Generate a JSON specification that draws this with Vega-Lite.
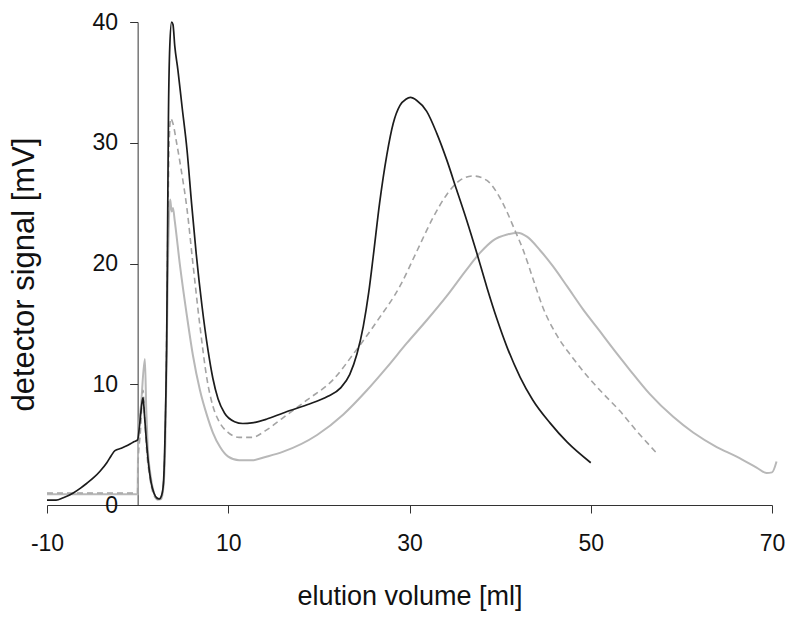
{
  "$schema": "https://vega.github.io/schema/vega-lite/v6.json",
  "width": 725,
  "height": 483,
  "autosize": "none",
  "padding": {"left": 47, "top": 22, "right": 28, "bottom": 116},
  "background": "white",
  "config": {"view": {"stroke": null}, "font": "Liberation Sans"},
  "datasets": {
    "black": [
      {"volume": -10, "signal": 0.4}, {"volume": -9, "signal": 0.4}, {"volume": -8.2, "signal": 0.6},
      {"volume": -7.1, "signal": 1.0}, {"volume": -6.3, "signal": 1.4}, {"volume": -5.6, "signal": 1.8},
      {"volume": -4.8, "signal": 2.3}, {"volume": -4.15, "signal": 2.8}, {"volume": -3.4, "signal": 3.5},
      {"volume": -2.9, "signal": 4.1}, {"volume": -2.5, "signal": 4.5}, {"volume": -1.8, "signal": 4.7},
      {"volume": -1.2, "signal": 4.9}, {"volume": -0.5, "signal": 5.2}, {"volume": 0.0, "signal": 5.4},
      {"volume": 0.2, "signal": 6.5}, {"volume": 0.45, "signal": 8.3}, {"volume": 0.6, "signal": 8.9},
      {"volume": 0.75, "signal": 7.5}, {"volume": 0.95, "signal": 5.5}, {"volume": 1.2, "signal": 3.4},
      {"volume": 1.5, "signal": 1.8}, {"volume": 1.8, "signal": 1.0}, {"volume": 2.1, "signal": 0.6},
      {"volume": 2.4, "signal": 0.5}, {"volume": 2.65, "signal": 0.8}, {"volume": 2.85, "signal": 1.8},
      {"volume": 3.0, "signal": 5.0}, {"volume": 3.1, "signal": 8.5}, {"volume": 3.2, "signal": 13.0},
      {"volume": 3.3, "signal": 22.0}, {"volume": 3.4, "signal": 32.0}, {"volume": 3.55, "signal": 38.0},
      {"volume": 3.75, "signal": 40.0}, {"volume": 3.9, "signal": 39.8}, {"volume": 4.1, "signal": 38.0},
      {"volume": 4.45, "signal": 36.0}, {"volume": 4.9, "signal": 33.0}, {"volume": 5.45, "signal": 29.4},
      {"volume": 5.95, "signal": 25.0}, {"volume": 6.44, "signal": 21.0}, {"volume": 7.1, "signal": 16.5},
      {"volume": 7.77, "signal": 12.8}, {"volume": 8.3, "signal": 10.5}, {"volume": 8.87, "signal": 8.8},
      {"volume": 9.6, "signal": 7.6}, {"volume": 10.7, "signal": 6.9}, {"volume": 11.6, "signal": 6.75},
      {"volume": 12.6, "signal": 6.8}, {"volume": 14.2, "signal": 7.1}, {"volume": 16.0, "signal": 7.6},
      {"volume": 18.7, "signal": 8.3}, {"volume": 21.0, "signal": 9.0}, {"volume": 22.4, "signal": 9.7},
      {"volume": 23.4, "signal": 10.8}, {"volume": 24.2, "signal": 12.5}, {"volume": 24.9, "signal": 14.8},
      {"volume": 25.5, "signal": 17.6}, {"volume": 26.0, "signal": 20.6}, {"volume": 26.7, "signal": 25.0},
      {"volume": 27.5, "signal": 29.0}, {"volume": 28.2, "signal": 31.6}, {"volume": 28.95, "signal": 33.1},
      {"volume": 29.6, "signal": 33.6}, {"volume": 30.1, "signal": 33.75}, {"volume": 30.8, "signal": 33.5},
      {"volume": 31.9, "signal": 32.6}, {"volume": 33.0, "signal": 30.8}, {"volume": 34.1, "signal": 28.6},
      {"volume": 35.2, "signal": 26.1}, {"volume": 36.3, "signal": 23.6}, {"volume": 37.45, "signal": 20.8},
      {"volume": 38.55, "signal": 18.0}, {"volume": 39.65, "signal": 15.4}, {"volume": 40.75, "signal": 13.1},
      {"volume": 42.2, "signal": 10.6}, {"volume": 43.6, "signal": 8.7}, {"volume": 45.5, "signal": 6.8},
      {"volume": 47.4, "signal": 5.2}, {"volume": 50.0, "signal": 3.5}
    ],
    "dashed": [
      {"volume": -10, "signal": 1.0}, {"volume": -5, "signal": 1.0}, {"volume": 0.0, "signal": 1.0},
      {"volume": 0.05, "signal": 3.5}, {"volume": 0.3, "signal": 6.0}, {"volume": 0.6, "signal": 9.5},
      {"volume": 0.8, "signal": 7.0}, {"volume": 1.0, "signal": 4.5}, {"volume": 1.3, "signal": 2.5},
      {"volume": 1.7, "signal": 1.0}, {"volume": 2.1, "signal": 0.5}, {"volume": 2.4, "signal": 0.45},
      {"volume": 2.7, "signal": 0.9}, {"volume": 2.9, "signal": 2.5}, {"volume": 3.05, "signal": 6.0},
      {"volume": 3.2, "signal": 14.0}, {"volume": 3.35, "signal": 24.0}, {"volume": 3.5, "signal": 30.5},
      {"volume": 3.65, "signal": 32.0}, {"volume": 3.9, "signal": 31.6}, {"volume": 4.3, "signal": 30.0},
      {"volume": 4.8, "signal": 27.8}, {"volume": 5.45, "signal": 24.5}, {"volume": 6.1, "signal": 20.0},
      {"volume": 6.88, "signal": 14.8}, {"volume": 7.66, "signal": 10.4}, {"volume": 8.3, "signal": 8.2},
      {"volume": 9.0, "signal": 6.9}, {"volume": 10.0, "signal": 6.0}, {"volume": 11.2, "signal": 5.6},
      {"volume": 12.6, "signal": 5.6}, {"volume": 14.2, "signal": 6.2}, {"volume": 16.0, "signal": 7.2},
      {"volume": 18.7, "signal": 8.7}, {"volume": 21.6, "signal": 10.4}, {"volume": 23.8, "signal": 12.5},
      {"volume": 26.4, "signal": 15.2}, {"volume": 29.0, "signal": 18.2}, {"volume": 30.8, "signal": 21.0},
      {"volume": 32.6, "signal": 23.8}, {"volume": 34.1, "signal": 25.7}, {"volume": 35.6, "signal": 26.9},
      {"volume": 37.0, "signal": 27.25}, {"volume": 38.5, "signal": 26.9}, {"volume": 39.7, "signal": 25.8},
      {"volume": 40.8, "signal": 24.2}, {"volume": 41.6, "signal": 22.8}, {"volume": 42.5, "signal": 21.2},
      {"volume": 43.6, "signal": 18.8}, {"volume": 44.7, "signal": 16.4}, {"volume": 46.3, "signal": 14.0},
      {"volume": 48.0, "signal": 12.2}, {"volume": 49.7, "signal": 10.6}, {"volume": 51.4, "signal": 9.2},
      {"volume": 53.2, "signal": 7.8}, {"volume": 55.1, "signal": 6.1}, {"volume": 57.4, "signal": 4.2}
    ],
    "light": [
      {"volume": -10, "signal": 0.9}, {"volume": -5, "signal": 0.9}, {"volume": 0.0, "signal": 0.9},
      {"volume": 0.05, "signal": 5.0}, {"volume": 0.4, "signal": 8.5}, {"volume": 0.8, "signal": 12.1},
      {"volume": 0.95, "signal": 8.0}, {"volume": 1.1, "signal": 5.0}, {"volume": 1.4, "signal": 2.6},
      {"volume": 1.8, "signal": 1.0}, {"volume": 2.2, "signal": 0.45}, {"volume": 2.6, "signal": 0.5},
      {"volume": 2.85, "signal": 1.5}, {"volume": 3.05, "signal": 5.0}, {"volume": 3.2, "signal": 12.0},
      {"volume": 3.35, "signal": 20.0}, {"volume": 3.5, "signal": 24.5}, {"volume": 3.6, "signal": 25.3},
      {"volume": 3.75, "signal": 24.3}, {"volume": 3.9, "signal": 24.6}, {"volume": 4.1, "signal": 23.5},
      {"volume": 4.68, "signal": 19.8}, {"volume": 5.45, "signal": 15.6}, {"volume": 6.1, "signal": 12.4},
      {"volume": 6.88, "signal": 9.5}, {"volume": 7.66, "signal": 7.4}, {"volume": 8.3, "signal": 6.0},
      {"volume": 9.1, "signal": 4.8}, {"volume": 10.0, "signal": 4.0}, {"volume": 11.2, "signal": 3.7},
      {"volume": 12.6, "signal": 3.7}, {"volume": 14.2, "signal": 4.0}, {"volume": 16.0, "signal": 4.4},
      {"volume": 19.8, "signal": 5.8}, {"volume": 22.7, "signal": 7.5}, {"volume": 25.3, "signal": 9.5},
      {"volume": 27.5, "signal": 11.4}, {"volume": 29.7, "signal": 13.4}, {"volume": 31.9, "signal": 15.3},
      {"volume": 34.1, "signal": 17.3}, {"volume": 36.3, "signal": 19.5}, {"volume": 37.8, "signal": 20.9},
      {"volume": 39.2, "signal": 21.9}, {"volume": 40.8, "signal": 22.4}, {"volume": 41.9, "signal": 22.55},
      {"volume": 43.0, "signal": 22.2}, {"volume": 44.4, "signal": 21.1}, {"volume": 45.8, "signal": 19.8},
      {"volume": 47.4, "signal": 18.1}, {"volume": 49.15, "signal": 16.2}, {"volume": 51.0, "signal": 14.4},
      {"volume": 52.1, "signal": 13.3}, {"volume": 54.3, "signal": 11.2}, {"volume": 56.5, "signal": 9.2},
      {"volume": 59.1, "signal": 7.3}, {"volume": 61.3, "signal": 6.0}, {"volume": 63.9, "signal": 4.8},
      {"volume": 66.1, "signal": 4.0}, {"volume": 68.3, "signal": 3.1}, {"volume": 69.4, "signal": 2.65},
      {"volume": 70.0, "signal": 2.7}, {"volume": 70.5, "signal": 3.6}
    ]
  },
  "encoding": {
    "x": {
      "field": "volume", "type": "quantitative",
      "scale": {"domain": [-10, 70], "nice": false, "zero": false},
      "axis": {
        "title": "elution volume [ml]", "values": [-10, 10, 30, 50, 70], "grid": false,
        "labelExpr": "'' + datum.value",
        "domainColor": "#333333", "tickColor": "#333333", "tickSize": 8, "domainWidth": 1,
        "labelFontSize": 23, "labelColor": "#111111", "labelPadding": 19, "labelFlush": false,
        "titleFontSize": 27, "titleFontWeight": "normal", "titleColor": "#111111",
        "titleBaseline": "alphabetic", "titleY": 99
      }
    },
    "y": {
      "field": "signal", "type": "quantitative",
      "scale": {"domain": [0, 40], "nice": false},
      "axis": {
        "title": "detector signal [mV]", "values": [0, 10, 20, 30, 40], "grid": false,
        "offset": -90.625,
        "domainColor": "#333333", "tickColor": "#333333", "tickSize": 8, "domainWidth": 1,
        "labelFontSize": 23, "labelColor": "#111111", "labelPadding": 12, "labelFlush": false,
        "titleFontSize": 31, "titleFontWeight": "normal", "titleColor": "#111111",
        "titleAngle": -90, "titleBaseline": "alphabetic", "titleAlign": "center",
        "titleX": -104.6, "titleY": 252
      }
    }
  },
  "layer": [
    {"data": {"name": "light"}, "mark": {"type": "line", "color": "#b8b8b8", "strokeWidth": 2, "interpolate": "monotone"}},
    {"data": {"name": "dashed"}, "mark": {"type": "line", "color": "#a4a4a4", "strokeWidth": 1.6, "strokeDash": [6, 4], "interpolate": "monotone"}},
    {"data": {"name": "black"}, "mark": {"type": "line", "color": "#1c1c1c", "strokeWidth": 1.7, "interpolate": "monotone"}}
  ]
}
